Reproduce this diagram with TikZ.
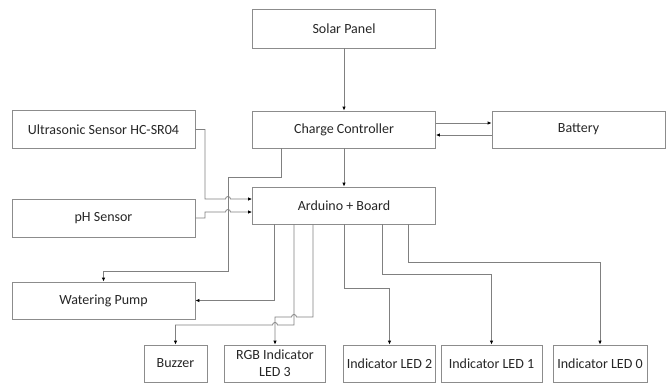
\documentclass[tikz,border=0pt]{standalone}
\usepackage{fontspec}
\setmainfont{Carlito}
\usetikzlibrary{arrows.meta}

\newcommand*{\wide}{183pt}
\newcommand*{\high}{37pt}

\begin{document}
\begin{tikzpicture}
[
	x=1pt, y=-1pt,
	block/.style={rectangle,draw=gray!90,line width=0.8pt,text=black!85,inner sep=0pt,
		minimum width=\wide,minimum height=\high,align=center,
		font=\fontsize{14}{17}\selectfont},
	wire/.style={draw=gray,line width=0.8pt},
	arr/.style={wire,-{Latex[length=4pt,width=3.5pt,black]}}
]
	\useasboundingbox (0,0) rectangle (667,383);

	% boxes
	\node[block,minimum height=39pt] (solar) at (344,28.5) {Solar Panel};
	\node[block] (charge) at (344,129.5) {Charge Controller};
	\node[block,minimum width=173pt] (battery) at (578.5,129.5) {Battery};
	\node[block,minimum height=38pt] (ultra) at (103.5,129.5) {Ultrasonic Sensor HC-SR04};
	\node[block] (arduino) at (344,205.5) {Arduino + Board};
	\node[block,minimum height=38pt] (ph) at (103.5,218) {pH Sensor};
	\node[block] (pump) at (103.5,300.5) {Watering Pump};

	\node[block,minimum width=63pt,minimum height=37pt] (buzzer) at (175.5,363.5) {Buzzer};
	\node[block,minimum width=101pt,minimum height=37pt] (rgb) at (275,363.5) {RGB Indicator\\LED 3};
	\node[block,minimum width=92pt,minimum height=37pt] (led2) at (389.5,363.5) {Indicator LED 2};
	\node[block,minimum width=101pt,minimum height=37pt] (led1) at (491.5,363.5) {Indicator LED 1};
	\node[block,minimum width=94pt,minimum height=37pt] (led0) at (600,363.5) {Indicator LED 0};

	% power
	\draw[arr] (solar.south) -- (charge.north);
	\draw[arr] (charge.east |- 0,123) -- (battery.west |- 0,123);
	\draw[arr] (battery.west |- 0,135) -- (charge.east |- 0,135);
	\draw[arr] (charge.south) -- (arduino.north);
	\draw[arr] (281,0 |- charge.south) -- (281,177) -- (228,177) -- (228,271) -| (pump.north);

	% sensors
	\draw[arr] (ultra.east) -- (205,0 |- ultra.east) -- (205,199) -- (225.5,199)
		arc[start angle=180,end angle=0,radius=2.5pt] -- (arduino.west |- 0,199);
	\draw[arr] (ph.east) -- (205,0 |- ph.east) -- (205,212) -- (225.5,212)
		arc[start angle=180,end angle=0,radius=2.5pt] -- (arduino.west |- 0,212);

	% outputs
	\draw[arr] (274,0 |- arduino.south) |- (pump.east);
	\draw[arr] (294,0 |- arduino.south) -- (294,325) -- (277.5,325)
		arc[start angle=0,end angle=180,radius=2.5pt] -- (buzzer.north |- 0,325) -- (buzzer.north);
	\draw[arr] (313,0 |- arduino.south) -- (313,317) -- (296.5,317)
		arc[start angle=0,end angle=180,radius=2.5pt] -- (rgb.north |- 0,317) -- (rgb.north);
	\draw[arr] (344,0 |- arduino.south) -- (344,288) -| (led2.north);
	\draw[arr] (382,0 |- arduino.south) -- (382,274) -| (led1.north);
	\draw[arr] (408,0 |- arduino.south) -- (408,262) -| (led0.north);

\end{tikzpicture}
\end{document}
